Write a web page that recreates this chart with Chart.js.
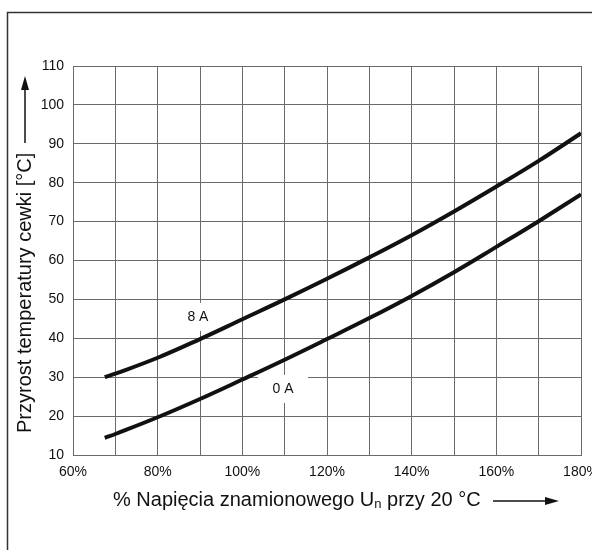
<!DOCTYPE html>
<html>
<head>
<meta charset="utf-8">
<script src="https://cdn.jsdelivr.net/npm/chart.js@4"></script>
<style>
  html, body { margin: 0; padding: 0; background: #fff; }
  #wrap { width: 592px; height: 550px; position: relative; }
</style>
</head>
<body>
<div id="wrap"><canvas id="c"></canvas></div>
<script>
// % of rated voltage vs coil temperature rise, two load currents
const voltagePct = [67.5, 70, 80, 90, 100, 110, 120, 130, 140, 150, 160, 170, 180];
const rise8A = [30, 30.9, 35.0, 39.8, 44.9, 50.0, 55.3, 60.8, 66.5, 72.6, 79.0, 85.6, 92.7];
const rise0A = [14.4, 15.4, 19.7, 24.4, 29.4, 34.5, 39.8, 45.2, 50.9, 57.0, 63.5, 70.1, 77.0];
const xTicks = [60, 80, 100, 120, 140, 160, 180];
const curveLabels = [
  { text: "8 A", x: 89.5, y: 45.5 },
  { text: "0 A", x: 109.6, y: 27.0 },
];

const FONT = "'Liberation Sans', Arial, sans-serif";
const INK = "#111";
const GRID = "#6a6a6a";

// frame, axis titles with arrows, curve labels
const decor = {
  id: "decor",
  beforeDatasetsDraw(chart) {
    const { ctx, scales: { x, y } } = chart;
    ctx.save();
    curveLabels.forEach((l) => {
      const px = x.getPixelForValue(l.x), py = y.getPixelForValue(l.y);
      ctx.fillStyle = "#fff";
      ctx.fillRect(px - 25, py - 14, 50, 28);
    });
    ctx.restore();
  },
  afterDraw(chart) {
    const { ctx } = chart;
    ctx.save();
    // outer frame
    ctx.strokeStyle = "#333";
    ctx.lineWidth = 1.5;
    ctx.strokeRect(7.5, 12.5, 700, 700);

    // curve labels
    const { x, y } = chart.scales;
    ctx.fillStyle = INK;
    ctx.font = `14px ${FONT}`;
    ctx.textAlign = "center";
    ctx.textBaseline = "middle";
    curveLabels.forEach((l) => ctx.fillText(l.text, x.getPixelForValue(l.x), y.getPixelForValue(l.y)));

    // x title
    ctx.font = `20px ${FONT}`;
    ctx.textAlign = "left";
    ctx.textBaseline = "middle";
    let tx = 113;
    const ty = 500;
    const p1 = "% Napięcia znamionowego U";
    ctx.fillText(p1, tx, ty);
    tx += ctx.measureText(p1).width;
    ctx.font = `13px ${FONT}`;
    ctx.fillText("n", tx, ty + 4);
    tx += ctx.measureText("n").width;
    ctx.font = `20px ${FONT}`;
    ctx.fillText(" przy 20 °C", tx, ty);

    ctx.strokeStyle = INK;
    ctx.lineWidth = 1.5;
    ctx.beginPath(); ctx.moveTo(493, ty + 1); ctx.lineTo(548, ty + 1); ctx.stroke();
    ctx.beginPath(); ctx.moveTo(559, ty + 1); ctx.lineTo(545, ty - 3); ctx.lineTo(545, ty + 5); ctx.closePath(); ctx.fill();

    // y title
    ctx.save();
    ctx.translate(25, 433);
    ctx.rotate(-Math.PI / 2);
    ctx.font = `20px ${FONT}`;
    ctx.textAlign = "left";
    ctx.fillText("Przyrost temperatury cewki [°C]", 0, 0);
    ctx.restore();
    ctx.beginPath(); ctx.moveTo(25, 143); ctx.lineTo(25, 86); ctx.stroke();
    ctx.beginPath(); ctx.moveTo(25, 76); ctx.lineTo(21, 90); ctx.lineTo(29, 90); ctx.closePath(); ctx.fill();
    ctx.restore();
  },
};

new Chart(document.getElementById("c"), {
  type: "line",
  data: {
    datasets: [
      { label: "8 A", data: voltagePct.map((v, i) => ({ x: v, y: rise8A[i] })) },
      { label: "0 A", data: voltagePct.map((v, i) => ({ x: v, y: rise0A[i] })) },
    ].map((d) => ({ ...d, borderColor: INK, borderWidth: 4, pointRadius: 0, tension: 0.4, borderCapStyle: "butt" })),
  },
  options: {
    responsive: true,
    maintainAspectRatio: false,
    animation: false,
    devicePixelRatio: 1,
    layout: { padding: { left: 0, right: 11, top: 66, bottom: 0 } },
    plugins: { legend: { display: false }, tooltip: { enabled: false } },
    scales: {
      x: {
        type: "linear", min: 60, max: 180,
        afterBuildTicks: (s) => { s.ticks = []; for (let v = 60; v <= 180; v += 10) s.ticks.push({ value: v }); },
        afterFit: (s) => { s.height = 95; s.paddingLeft = 0; s.paddingRight = 0; },
        grid: { color: GRID, lineWidth: 1, drawTicks: false },
        border: { color: GRID },
        ticks: {
          autoSkip: false, maxRotation: 0, padding: 9, color: INK, font: { family: FONT, size: 14 },
          callback: (v) => (xTicks.includes(v) ? v + "%" : ""),
        },
      },
      y: {
        min: 10, max: 110,
        afterFit: (s) => { s.width = 73; },
        grid: { color: GRID, lineWidth: 1, drawTicks: false },
        border: { color: GRID },
        ticks: { stepSize: 10, padding: 9, color: INK, font: { family: FONT, size: 14 } },
      },
    },
  },
  plugins: [decor],
});
</script>
</body>
</html>
